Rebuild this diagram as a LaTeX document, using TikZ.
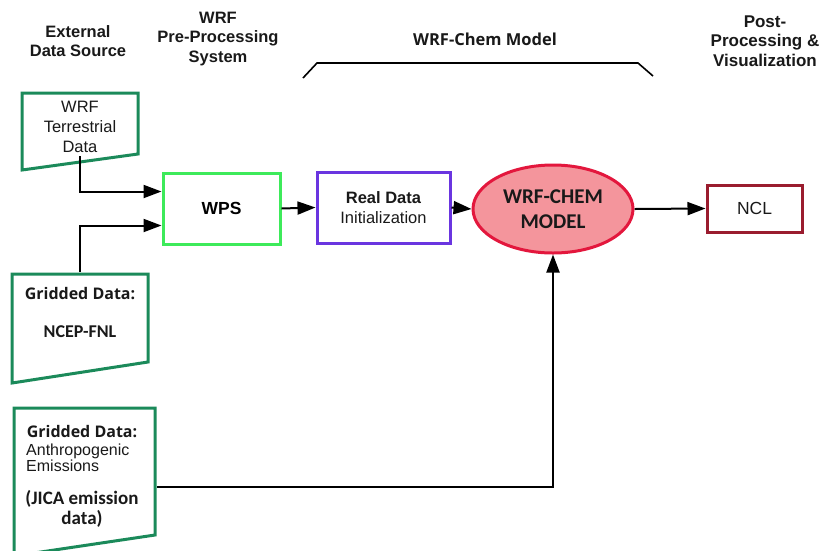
\documentclass[tikz,border=0pt]{standalone}
\usepackage{fontspec}
\setmainfont{Liberation Sans}
\newfontfamily\carl{Carlito}
\newfontfamily\osans{Open Sans}
\usetikzlibrary{arrows.meta,shapes.geometric}
\definecolor{teal1}{HTML}{1B8A5A}
\definecolor{wpsgreen}{HTML}{3DEA5A}
\definecolor{purp}{HTML}{6A35E0}
\definecolor{pinkf}{HTML}{F4959C}
\definecolor{redb}{HTML}{E3173D}
\definecolor{ncl}{HTML}{9A1C2E}
\tikzset{
  src/.style={draw=teal1,line width=3pt,line join=miter},
  boxx/.style={draw,line width=3pt,minimum width=#1},
  conn/.style={line width=2pt,-{Triangle[length=18pt,width=13pt]}},
  head/.style={font=\bfseries\fontsize{16.5}{19.5}\selectfont,align=center,text=black!90},
  txt/.style={font=\fontsize{16.5}{20}\selectfont,align=center,text=black!90},
  bl/.style={anchor=base,inner sep=0pt,text=black!90}
}
\begin{document}
\begin{tikzpicture}[x=1pt,y=-1pt]
\useasboundingbox (0,0) rectangle (821,550);
% headings
\node[head] (h1) at (78,41) {External\\Data Source};
\node[head] (h2) at (218,39) {WRF\\Pre-Processing\\System};
\node[head,font=\osans\bfseries\fontsize{16.5}{19}\selectfont] (h3) at (485,39) {WRF-Chem Model};
\node[head,font=\bfseries\fontsize{17}{19.5}\selectfont] (h4) at (765,41) {Post-\\Processing \&\\Visualization};
% bracket
\draw[line width=1.6pt] (303,78) -- (317,63) -- (638,63) -- (653,76);
% source shapes
\draw[src] (22,93) -- (138,93) -- (138,154) -- (22,170) -- cycle;
\node[txt] (terr) at (80,127) {WRF\\Terrestrial\\Data};
\coordinate (terrb) at (80,156);
\draw[src] (12,274) -- (148,274) -- (148,362) -- (12,383) -- cycle;
\node[bl,font=\osans\bfseries\fontsize{16}{18}\selectfont] (g1) at (80,299) {Gridded Data:};
\node[bl,font=\carl\bfseries\fontsize{18}{18}\selectfont] (ncep) at (80,337) {NCEP-FNL};
\coordinate (ncept) at (80,272);
\draw[src] (14,408) -- (155,408) -- (155,535) -- (14,556) -- cycle;
\node[bl,font=\osans\bfseries\fontsize{16}{18}\selectfont] (g2) at (82,437) {Gridded Data:};
\node[bl,anchor=base west,font=\fontsize{16}{14}\selectfont] (anth1) at (26,455) {Anthropogenic};
\node[bl,anchor=base west,font=\fontsize{16}{14}\selectfont] (anth2) at (26,471) {Emissions};
\node[bl,font=\carl\bfseries\fontsize{19}{21}\selectfont] (jica1) at (82,504) {(JICA emission};
\node[bl,font=\carl\bfseries\fontsize{19}{21}\selectfont] (jica2) at (82,524) {data)};
\coordinate (anthr) at (157,487);
% main boxes
\node[boxx=117pt,draw=wpsgreen,minimum height=71pt,font=\bfseries\fontsize{17.5}{18}\selectfont] (wps) at (221.5,208.5) {WPS};
\node[boxx=133pt,draw=purp,minimum height=71pt,align=center,font=\fontsize{16.5}{20}\selectfont,text=black!90] (real) at (383.5,207.5) {\textbf{Real Data}\\Initialization};
\node[ellipse,draw=redb,fill=pinkf,line width=3pt,minimum width=160pt,minimum height=88pt,inner sep=0pt,align=center,font=\carl\bfseries\fontsize{21}{25}\selectfont,text=black!90] (chem) at (553,209) {WRF-CHEM\\MODEL};
\node[boxx=95pt,draw=ncl,minimum height=47pt,font=\fontsize{17.5}{18}\selectfont,text=black!90] (ncl) at (754.5,208.5) {NCL};
% connectors
\draw[conn] (terrb) |- ([yshift=17pt]wps.west);
\draw[conn] (ncept) |- ([yshift=-17pt]wps.west);
\draw[conn] (wps.east) -- (real.west);
\draw[conn] (real.east) -- (chem.west);
\draw[conn] (chem.east) -- (ncl.west);
\draw[conn] (anthr) -| (chem.south);
\end{tikzpicture}
\end{document}
